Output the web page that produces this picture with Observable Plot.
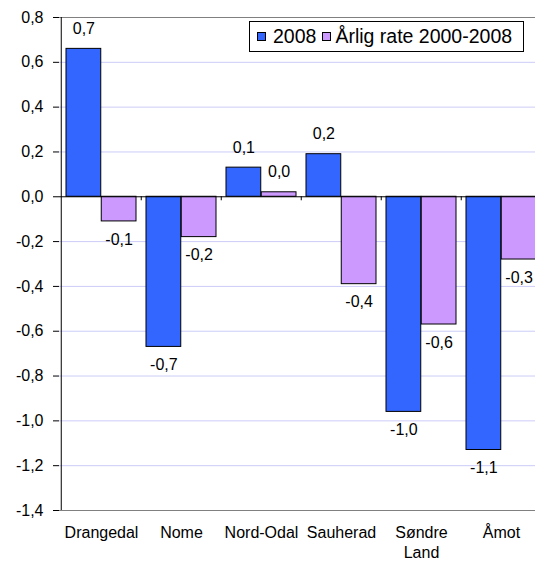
<!DOCTYPE html>
<html>
<head>
<meta charset="utf-8">
<script src="https://cdn.jsdelivr.net/npm/d3@7"></script>
<script src="https://cdn.jsdelivr.net/npm/@observablehq/plot@0.6"></script>
<style>
  html, body { margin: 0; padding: 0; background: #fff; overflow: hidden; }
  #wrap { position: relative; width: 535px; height: 562px; overflow: hidden; font-family: "Liberation Sans", Arial, sans-serif; }
  #wrap svg { max-width: none !important; display: block; }
  #legend { position: absolute; left: 249px; top: 21px; width: 273px; height: 29px; border: 1px solid #000; background: #fff;
            display: flex; align-items: center; font-size: 19.5px; color: #000; white-space: nowrap; }
  #legend .sw { display: inline-block; width: 7px; height: 7px; border: 1px solid #000; flex: none; }
</style>
</head>
<body>
<div id="wrap"></div>
<script>
const categories = ["Drangedal", "Nome", "Nord-Odal", "Sauherad", "Søndre Land", "Åmot"];
const seriesNames = ["2008", "Årlig rate 2000-2008"];
const values2008 = [0.66, -0.67, 0.13, 0.19, -0.96, -1.13];
const valuesRate = [-0.11, -0.18, 0.02, -0.39, -0.57, -0.28];
const yTicks = [-1.4, -1.2, -1.0, -0.8, -0.6, -0.4, -0.2, 0.0, 0.2, 0.4, 0.6, 0.8];
const colors = ["#3366ff", "#cc99ff"];

const rows = [];
categories.forEach((c, i) => {
  rows.push({cat: c, series: seriesNames[0], value: values2008[i]});
  rows.push({cat: c, series: seriesNames[1], value: valuesRate[i]});
});

const W = 542, ML = 59, MR = 0, MT = 17, MB = 52, H = 562;
const bw = (W - ML - MR) / categories.length;
const pad = 5;
const barW = (bw - 2 * pad) / 2;
const fmt = d => (Math.abs(d) < 1e-9 ? 0 : d).toFixed(1).replace(".", ",");
const lab = d => fmt(Math.round(d * 10) / 10);

const s0 = rows.filter(d => d.series === seriesNames[0]);
const s1 = rows.filter(d => d.series === seriesNames[1]);

const font = "Liberation Sans, Arial, sans-serif";

const textMarks = [];
[[s0, -barW / 2], [s1, barW / 2]].forEach(([s, dx]) => {
  textMarks.push(Plot.text(s.filter(d => d.value >= 0), {x: "cat", y: "value", text: d => lab(d.value), dx, dy: -20, fontSize: 16, fill: "#000"}));
  textMarks.push(Plot.text(s.filter(d => d.value < 0), {x: "cat", y: "value", text: d => lab(d.value), dx, dy: 18, fontSize: 16, fill: "#000"}));
});

const chart = Plot.plot({
  width: W, height: H,
  marginLeft: ML, marginRight: MR, marginTop: MT, marginBottom: MB,
  style: {fontFamily: font, fontSize: "16px", color: "#000", background: "transparent", maxWidth: "none"},
  x: {domain: categories, padding: 0, axis: null, label: null},
  y: {domain: [-1.4, 0.8], axis: null, label: null},
  marks: [
    Plot.ruleY(yTicks.filter(t => t !== 0 && t !== -1.4 && t !== 0.8), {stroke: "#ccccf8", strokeWidth: 1}),
    Plot.ruleY([0.8, -1.4], {stroke: "#808080", strokeWidth: 1}),
    Plot.barY(s0, {x: "cat", y: "value", fill: colors[0], stroke: "#000", strokeWidth: 1, insetLeft: pad, insetRight: pad + barW}),
    Plot.barY(s1, {x: "cat", y: "value", fill: colors[1], stroke: "#000", strokeWidth: 1, insetLeft: pad + barW, insetRight: pad}),
    Plot.ruleY([0], {stroke: "#000", strokeWidth: 1}),
    Plot.ruleX(categories.slice(1), {x: d => d, y1: 0, y2: 0, insetBottom: -4, dx: -bw / 2, stroke: "#000"}),
    Plot.ruleX([categories[0]], {x: d => d, y1: -1.4, y2: 0.8, dx: -bw / 2, stroke: "#000"}),
    Plot.axisY(yTicks, {label: null, tickSize: 6, tickPadding: 10, tickFormat: fmt, fontSize: 16, stroke: "#000"}),
    Plot.axisX(categories, {label: null, tickSize: 0, tickPadding: 13, tickFormat: d => d.replace(" ", "\n"), fontSize: 16, lineHeight: 1.25, lineAnchor: "top"}),
    ...textMarks
  ]
});
chart.style.maxWidth = "none";
document.getElementById("wrap").appendChild(chart);

const legend = document.createElement("div");
legend.id = "legend";
const swMargins = [[7, 7], [6, 4]];
seriesNames.forEach((n, i) => {
  const sw = document.createElement("span");
  sw.className = "sw";
  sw.style.background = colors[i];
  sw.style.marginLeft = swMargins[i][0] + "px";
  sw.style.marginRight = swMargins[i][1] + "px";
  legend.appendChild(sw);
  const t = document.createElement("span");
  t.textContent = n;
  legend.appendChild(t);
});
document.getElementById("wrap").appendChild(legend);
</script>
</body>
</html>
